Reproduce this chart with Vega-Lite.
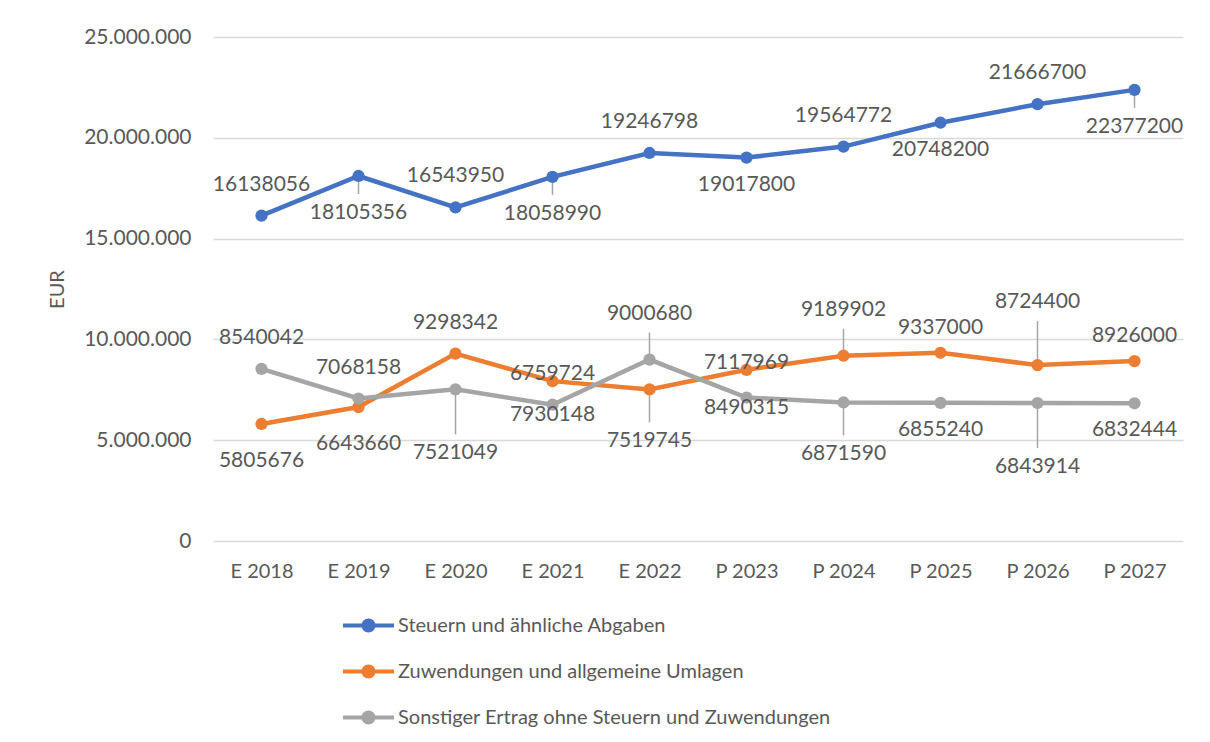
{
  "$schema": "https://vega.github.io/schema/vega-lite/v6.json",
  "width": 970,
  "height": 504,
  "autosize": {"type": "none"},
  "padding": {"left": 213, "top": 37, "right": 27, "bottom": 201},
  "background": "#ffffff",
  "config": {
    "font": "Lato",
    "view": {"stroke": null},
    "locale": {"number": {"decimal": ",", "thousands": ".", "grouping": [3], "currency": ["", " €"]}}
  },
  "data": {
    "values": [
      {"Kategorie": "E 2018", "Reihe": "Steuern und ähnliche Abgaben", "Wert": 16138056, "Beschriftung": "16138056", "Lage": "o1", "Linie": false},
      {"Kategorie": "E 2019", "Reihe": "Steuern und ähnliche Abgaben", "Wert": 18105356, "Beschriftung": "18105356", "Lage": "u2", "Linie": true},
      {"Kategorie": "E 2020", "Reihe": "Steuern und ähnliche Abgaben", "Wert": 16543950, "Beschriftung": "16543950", "Lage": "o1", "Linie": false},
      {"Kategorie": "E 2021", "Reihe": "Steuern und ähnliche Abgaben", "Wert": 18058990, "Beschriftung": "18058990", "Lage": "u2", "Linie": true},
      {"Kategorie": "E 2022", "Reihe": "Steuern und ähnliche Abgaben", "Wert": 19246798, "Beschriftung": "19246798", "Lage": "o1", "Linie": false},
      {"Kategorie": "P 2023", "Reihe": "Steuern und ähnliche Abgaben", "Wert": 19017800, "Beschriftung": "19017800", "Lage": "u1", "Linie": false},
      {"Kategorie": "P 2024", "Reihe": "Steuern und ähnliche Abgaben", "Wert": 19564772, "Beschriftung": "19564772", "Lage": "o1", "Linie": false},
      {"Kategorie": "P 2025", "Reihe": "Steuern und ähnliche Abgaben", "Wert": 20748200, "Beschriftung": "20748200", "Lage": "u1", "Linie": false},
      {"Kategorie": "P 2026", "Reihe": "Steuern und ähnliche Abgaben", "Wert": 21666700, "Beschriftung": "21666700", "Lage": "o1", "Linie": false},
      {"Kategorie": "P 2027", "Reihe": "Steuern und ähnliche Abgaben", "Wert": 22377200, "Beschriftung": "22377200", "Lage": "u2", "Linie": true},

      {"Kategorie": "E 2018", "Reihe": "Zuwendungen und allgemeine Umlagen", "Wert": 5805676, "Beschriftung": "5805676", "Lage": "u2", "Linie": false},
      {"Kategorie": "E 2019", "Reihe": "Zuwendungen und allgemeine Umlagen", "Wert": 6643660, "Beschriftung": "6643660", "Lage": "u2", "Linie": false},
      {"Kategorie": "E 2020", "Reihe": "Zuwendungen und allgemeine Umlagen", "Wert": 9298342, "Beschriftung": "9298342", "Lage": "o1", "Linie": false},
      {"Kategorie": "E 2021", "Reihe": "Zuwendungen und allgemeine Umlagen", "Wert": 7930148, "Beschriftung": "6759724", "Lage": "o0", "Linie": false},
      {"Kategorie": "E 2022", "Reihe": "Zuwendungen und allgemeine Umlagen", "Wert": 7519745, "Beschriftung": "7519745", "Lage": "u3", "Linie": true},
      {"Kategorie": "P 2023", "Reihe": "Zuwendungen und allgemeine Umlagen", "Wert": 8490315, "Beschriftung": "7117969", "Lage": "o0", "Linie": false},
      {"Kategorie": "P 2024", "Reihe": "Zuwendungen und allgemeine Umlagen", "Wert": 9189902, "Beschriftung": "9189902", "Lage": "o2", "Linie": true},
      {"Kategorie": "P 2025", "Reihe": "Zuwendungen und allgemeine Umlagen", "Wert": 9337000, "Beschriftung": "9337000", "Lage": "o1k", "Linie": false},
      {"Kategorie": "P 2026", "Reihe": "Zuwendungen und allgemeine Umlagen", "Wert": 8724400, "Beschriftung": "8724400", "Lage": "o3", "Linie": true},
      {"Kategorie": "P 2027", "Reihe": "Zuwendungen und allgemeine Umlagen", "Wert": 8926000, "Beschriftung": "8926000", "Lage": "o1k", "Linie": false},

      {"Kategorie": "E 2018", "Reihe": "Sonstiger Ertrag ohne Steuern und Zuwendungen", "Wert": 8540042, "Beschriftung": "8540042", "Lage": "o1", "Linie": false},
      {"Kategorie": "E 2019", "Reihe": "Sonstiger Ertrag ohne Steuern und Zuwendungen", "Wert": 7068158, "Beschriftung": "7068158", "Lage": "o1", "Linie": false},
      {"Kategorie": "E 2020", "Reihe": "Sonstiger Ertrag ohne Steuern und Zuwendungen", "Wert": 7521049, "Beschriftung": "7521049", "Lage": "u4", "Linie": true},
      {"Kategorie": "E 2021", "Reihe": "Sonstiger Ertrag ohne Steuern und Zuwendungen", "Wert": 6759724, "Beschriftung": "7930148", "Lage": "u0", "Linie": false},
      {"Kategorie": "E 2022", "Reihe": "Sonstiger Ertrag ohne Steuern und Zuwendungen", "Wert": 9000680, "Beschriftung": "9000680", "Lage": "o2", "Linie": true},
      {"Kategorie": "P 2023", "Reihe": "Sonstiger Ertrag ohne Steuern und Zuwendungen", "Wert": 7117969, "Beschriftung": "8490315", "Lage": "u0", "Linie": false},
      {"Kategorie": "P 2024", "Reihe": "Sonstiger Ertrag ohne Steuern und Zuwendungen", "Wert": 6871590, "Beschriftung": "6871590", "Lage": "u3", "Linie": true},
      {"Kategorie": "P 2025", "Reihe": "Sonstiger Ertrag ohne Steuern und Zuwendungen", "Wert": 6855240, "Beschriftung": "6855240", "Lage": "u1", "Linie": false},
      {"Kategorie": "P 2026", "Reihe": "Sonstiger Ertrag ohne Steuern und Zuwendungen", "Wert": 6843914, "Beschriftung": "6843914", "Lage": "u4", "Linie": true},
      {"Kategorie": "P 2027", "Reihe": "Sonstiger Ertrag ohne Steuern und Zuwendungen", "Wert": 6832444, "Beschriftung": "6832444", "Lage": "u1", "Linie": false}
    ]
  },
  "encoding": {
    "x": {
      "field": "Kategorie", "type": "ordinal",
      "scale": {"type": "point", "padding": 0.5, "domain": ["E 2018", "E 2019", "E 2020", "E 2021", "E 2022", "P 2023", "P 2024", "P 2025", "P 2026", "P 2027"]},
      "axis": {"title": null, "labelAngle": 0, "domain": false, "ticks": false, "grid": false,
               "labelFontSize": 20, "labelColor": "#595959", "labelPadding": 20}
    },
    "y": {
      "field": "Wert", "type": "quantitative",
      "scale": {"domain": [0, 25000000], "nice": false},
      "axis": {"title": "EUR", "titleFontSize": 20, "titleFontWeight": "normal", "titleColor": "#595959",
               "titlePadding": 16, "values": [0, 5000000, 10000000, 15000000, 20000000, 25000000],
               "format": ",d", "domain": false, "ticks": false, "gridColor": "#d9d9d9", "gridWidth": 1.5,
               "labelFontSize": 21, "labelColor": "#595959", "labelPadding": 22}
    }
  },
  "layer": [
    {"transform": [{"filter": "datum.Linie && datum.Lage === 'u2'"}], "mark": {"type": "rule", "color": "#a6a6a6", "strokeWidth": 1.5, "y2Offset": 18}, "encoding": {"y2": {"field": "Wert"}}},
    {"transform": [{"filter": "datum.Linie && datum.Lage === 'o2'"}], "mark": {"type": "rule", "color": "#a6a6a6", "strokeWidth": 1.5, "y2Offset": -27}, "encoding": {"y2": {"field": "Wert"}}},
    {"transform": [{"filter": "datum.Linie && datum.Lage === 'o3'"}], "mark": {"type": "rule", "color": "#a6a6a6", "strokeWidth": 1.5, "y2Offset": -44}, "encoding": {"y2": {"field": "Wert"}}},
    {"transform": [{"filter": "datum.Linie && datum.Lage === 'u3'"}], "mark": {"type": "rule", "color": "#a6a6a6", "strokeWidth": 1.5, "y2Offset": 33}, "encoding": {"y2": {"field": "Wert"}}},
    {"transform": [{"filter": "datum.Linie && datum.Lage === 'u4'"}], "mark": {"type": "rule", "color": "#a6a6a6", "strokeWidth": 1.5, "y2Offset": 45}, "encoding": {"y2": {"field": "Wert"}}},
    {
      "mark": {"type": "line", "strokeWidth": 4.5, "point": {"filled": true, "size": 150, "opacity": 1}},
      "encoding": {
        "color": {
          "field": "Reihe", "type": "nominal",
          "scale": {"domain": ["Steuern und ähnliche Abgaben", "Zuwendungen und allgemeine Umlagen", "Sonstiger Ertrag ohne Steuern und Zuwendungen"],
                    "range": ["#4472C4", "#ED7D31", "#A5A5A5"]},
          "legend": {
            "title": null, "orient": "none", "legendX": 128, "legendY": 561, "direction": "vertical",
            "symbolType": "M-1,0L1,0M-0.2,0A0.2,0.2,0,1,1,0.2,0A0.2,0.2,0,1,1,-0.2,0Z",
            "symbolSize": 2601, "symbolStrokeWidth": 4, "symbolOpacity": 1,
            "labelFontSize": 20, "labelColor": "#595959", "labelOffset": 2, "labelLimit": 800,
            "rowPadding": 5,
            "encode": {"symbols": {"update": {"fill": {"signal": "scale('color', datum.value)"}, "stroke": {"signal": "scale('color', datum.value)"}}}}
          }
        }
      }
    },
    {"transform": [{"filter": "datum.Lage === 'o0'"}], "mark": {"type": "text", "dy": -7, "fontSize": 21, "color": "#595959", "baseline": "middle"}, "encoding": {"text": {"field": "Beschriftung"}}},
    {"transform": [{"filter": "datum.Lage === 'u0'"}], "mark": {"type": "text", "dy": 10, "fontSize": 21, "color": "#595959", "baseline": "middle"}, "encoding": {"text": {"field": "Beschriftung"}}},
    {"transform": [{"filter": "datum.Lage === 'o1'"}], "mark": {"type": "text", "dy": -31, "fontSize": 21, "color": "#595959", "baseline": "middle"}, "encoding": {"text": {"field": "Beschriftung"}}},
    {"transform": [{"filter": "datum.Lage === 'o1k'"}], "mark": {"type": "text", "dy": -25, "fontSize": 21, "color": "#595959", "baseline": "middle"}, "encoding": {"text": {"field": "Beschriftung"}}},
    {"transform": [{"filter": "datum.Lage === 'u1'"}], "mark": {"type": "text", "dy": 27, "fontSize": 21, "color": "#595959", "baseline": "middle"}, "encoding": {"text": {"field": "Beschriftung"}}},
    {"transform": [{"filter": "datum.Lage === 'u2'"}], "mark": {"type": "text", "dy": 37, "fontSize": 21, "color": "#595959", "baseline": "middle"}, "encoding": {"text": {"field": "Beschriftung"}}},
    {"transform": [{"filter": "datum.Lage === 'o2'"}], "mark": {"type": "text", "dy": -46, "fontSize": 21, "color": "#595959", "baseline": "middle"}, "encoding": {"text": {"field": "Beschriftung"}}},
    {"transform": [{"filter": "datum.Lage === 'o3'"}], "mark": {"type": "text", "dy": -63, "fontSize": 21, "color": "#595959", "baseline": "middle"}, "encoding": {"text": {"field": "Beschriftung"}}},
    {"transform": [{"filter": "datum.Lage === 'u3'"}], "mark": {"type": "text", "dy": 52, "fontSize": 21, "color": "#595959", "baseline": "middle"}, "encoding": {"text": {"field": "Beschriftung"}}},
    {"transform": [{"filter": "datum.Lage === 'u4'"}], "mark": {"type": "text", "dy": 64, "fontSize": 21, "color": "#595959", "baseline": "middle"}, "encoding": {"text": {"field": "Beschriftung"}}}
  ]
}
